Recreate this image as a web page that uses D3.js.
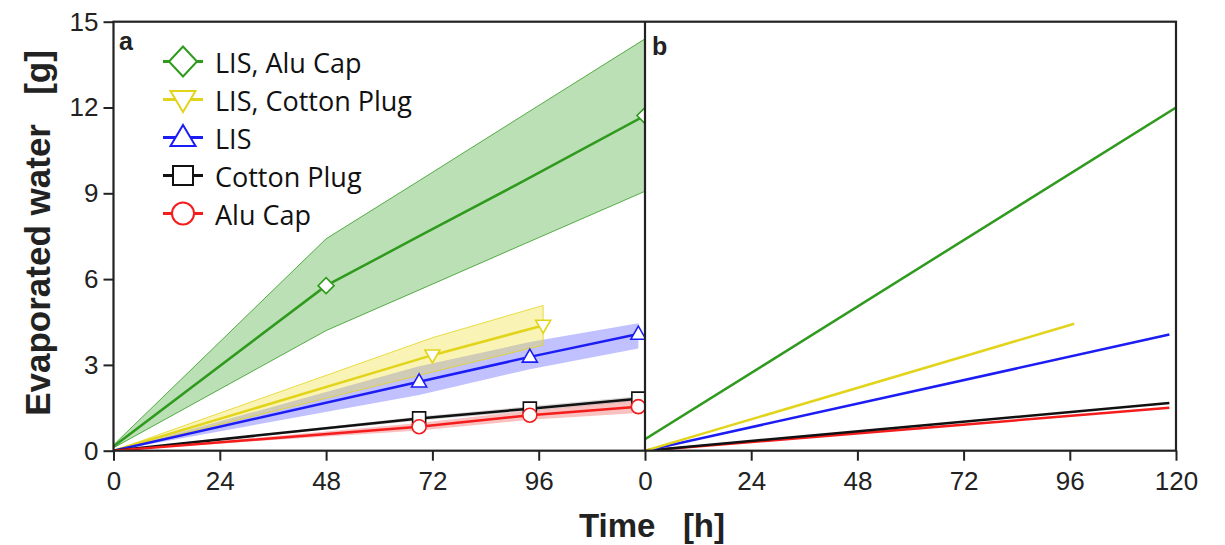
<!DOCTYPE html>
<html>
<head>
<meta charset="utf-8">
<script src="https://cdn.jsdelivr.net/npm/d3@7"></script>
<style>
  body { margin: 0; background: #fff; }
  svg { display: block; }
  .tick text { font-family: "Liberation Sans", Arial, sans-serif; font-size: 26px; fill: #222; }
</style>
</head>
<body>
<svg width="1225" height="545"></svg>
<script>
// series names + colours
var seriesNames = ["LIS, Alu Cap", "LIS, Cotton Plug", "LIS", "Cotton Plug", "Alu Cap"];
var lineColors = ["#2f9a1e", "#e2d41a", "#1c1cf5", "#111111", "#f51c1c"];
var bandColors = ["#3aa526", "#ecdf2a", "#4a4aff", "#777777", "#f04a4a"];
var symbols = ["diamond", "tri-down", "tri-up", "square", "circle"];

// panel a : measured means with band (time in h, water in g)
var tGreen = [0, 48, 69, 92, 120];
var meanGreen = [0.15, 5.77, 7.5, 9.38, 11.72];
var upGreen = [0.2, 7.41, 9.44, 11.68, 14.4];
var loGreen = [0.1, 4.2, 5.62, 7.18, 9.07];
var markGreen = [48, 120];

var tYellow = [0, 72, 97];
var meanYellow = [0, 3.34, 4.38];
var upYellow = [0, 3.95, 5.08];
var loYellow = [0, 2.75, 3.69];
var markYellow = [72, 97];

var tOther = [0, 69, 94, 118.5];
var meanBlue = [0, 2.41, 3.28, 4.08];
var upBlue = [0, 2.95, 3.8, 4.46];
var loBlue = [0, 1.95, 2.85, 3.57];

var meanBlack = [0, 1.13, 1.47, 1.82];
var upBlack = [0, 1.2, 1.55, 1.9];
var loBlack = [0, 1.06, 1.39, 1.74];

var meanRed = [0, 0.84, 1.24, 1.54];
var upRed = [0, 0.97, 1.4, 1.76];
var loRed = [0, 0.71, 1.08, 1.32];
var markOther = [69, 94, 118.5];

// panel b : linear fits (start / end)
var fitT0 = [0, 0, 0, 0, 0];
var fitT1 = [120, 97, 118.5, 118.5, 118.5];
var fitV0 = [0.4, 0, 0, 0, 0];
var fitV1 = [12.0, 4.44, 4.06, 1.67, 1.50];

var xTicksA = [0, 24, 48, 72, 96];
var xTicksB = [0, 24, 48, 72, 96, 120];
var yTicks = [0, 3, 6, 9, 12, 15];

var svg = d3.select("svg");

var left = 113.5, mid = 645, right = 1176, topY = 21.7, bottom = 450.7;

var y = d3.scaleLinear().domain([0, 15]).range([bottom, topY]);
var xA = d3.scaleLinear().domain([0, 120]).range([left, mid]);
var xB = d3.scaleLinear().domain([0, 120]).range([mid, right]);

function pack(t, m, u, l, marks) {
  return { pts: t.map(function(d, i) { return {t: d, m: m[i], u: u[i], l: l[i]}; }),
           marks: t.map(function(d, i) { return {t: d, m: m[i]}; }).filter(function(p) { return marks.indexOf(p.t) >= 0; }) };
}
var seriesA = [
  pack(tGreen, meanGreen, upGreen, loGreen, markGreen),
  pack(tYellow, meanYellow, upYellow, loYellow, markYellow),
  pack(tOther, meanBlue, upBlue, loBlue, markOther),
  pack(tOther, meanBlack, upBlack, loBlack, markOther),
  pack(tOther, meanRed, upRed, loRed, markOther)
];

// marker shapes
function markerPath(type, w, h) {
  var a = w / 2, b = h / 2;
  if (type == "diamond") return "M0," + (-b) + "L" + a + ",0L0," + b + "L" + (-a) + ",0Z";
  if (type == "tri-up") return "M0," + (-h * 0.6) + "L" + a + "," + (h * 0.4) + "L" + (-a) + "," + (h * 0.4) + "Z";
  if (type == "tri-down") return "M0," + (h * 0.6) + "L" + a + "," + (-h * 0.4) + "L" + (-a) + "," + (-h * 0.4) + "Z";
  if (type == "square") return "M" + (-a) + "," + (-b) + "h" + w + "v" + h + "h" + (-w) + "Z";
  return d3.arc()({innerRadius: 0, outerRadius: a, startAngle: 0, endAngle: 2 * Math.PI});
}
var chartSize = {"diamond": [16, 16], "tri-down": [15, 13], "tri-up": [15, 13], "square": [13, 13], "circle": [14, 14]};
var legSize = {"diamond": [28, 30], "tri-down": [25, 21], "tri-up": [25, 21], "square": [20, 19], "circle": [22, 22]};

svg.append("clipPath").attr("id", "clipA")
  .append("rect").attr("x", left).attr("y", topY).attr("width", mid - left).attr("height", bottom - topY);
svg.append("clipPath").attr("id", "clipB")
  .append("rect").attr("x", mid).attr("y", topY).attr("width", right - mid).attr("height", bottom - topY);

var gA = svg.append("g").attr("clip-path", "url(#clipA)");

var area = d3.area().x(function(d) { return xA(d.t); }).y0(function(d) { return y(d.l); }).y1(function(d) { return y(d.u); });
var line = d3.line().x(function(d) { return xA(d.t); }).y(function(d) { return y(d.m); });

// bands
var bandOrder = [0, 2, 1, 3, 4];
bandOrder.forEach(function(i) {
  gA.append("path").datum(seriesA[i].pts)
    .attr("d", area)
    .attr("fill", bandColors[i])
    .attr("fill-opacity", i == 3 ? 0.3 : 0.34)
    .attr("stroke", (i < 2) ? lineColors[i] : "none")
    .attr("stroke-width", 0.8);
});

// mean lines
seriesA.forEach(function(s, i) {
  gA.append("path").datum(s.pts)
    .attr("d", line)
    .attr("fill", "none")
    .attr("stroke", lineColors[i])
    .attr("stroke-width", 2.5);
});

// markers
[3, 4, 2, 1, 0].forEach(function(i) {
  var sz = chartSize[symbols[i]];
  gA.selectAll(".m" + i).data(seriesA[i].marks).enter().append("path")
    .attr("class", "m" + i)
    .attr("transform", function(d) { return "translate(" + xA(d.t) + "," + y(d.m) + ")"; })
    .attr("d", markerPath(symbols[i], sz[0], sz[1]))
    .attr("fill", "#fff")
    .attr("stroke", lineColors[i])
    .attr("stroke-width", 1.6);
});

// panel b fits
var gB = svg.append("g").attr("clip-path", "url(#clipB)");
var fits = seriesNames.map(function(n, i) {
  return [{t: fitT0[i], v: fitV0[i]}, {t: fitT1[i], v: fitV1[i]}];
});
[4, 3, 2, 1, 0].forEach(function(i) {
  gB.append("path").datum(fits[i])
    .attr("d", d3.line().x(function(d) { return xB(d.t); }).y(function(d) { return y(d.v); }))
    .attr("fill", "none")
    .attr("stroke", lineColors[i])
    .attr("stroke-width", 2.5);
});

// axes
var axA = svg.append("g").attr("transform", "translate(0," + bottom + ")")
  .call(d3.axisBottom(xA).tickValues(xTicksA).tickSize(10).tickPadding(11).tickSizeOuter(0));
var axB = svg.append("g").attr("transform", "translate(0," + bottom + ")")
  .call(d3.axisBottom(xB).tickValues(xTicksB).tickSize(10).tickPadding(11).tickSizeOuter(0));
var axY = svg.append("g").attr("transform", "translate(" + left + ",0)")
  .call(d3.axisLeft(y).tickValues(yTicks).tickSize(10).tickPadding(5).tickSizeOuter(0));
[axA, axB, axY].forEach(function(g) {
  g.select(".domain").remove();
  g.selectAll(".tick line").attr("stroke", "#222").attr("stroke-width", 2);
});

// frame
var frame = svg.append("g").attr("stroke", "#222").attr("stroke-width", 2.2).attr("fill", "none");
frame.append("rect").attr("x", left).attr("y", topY).attr("width", right - left).attr("height", bottom - topY);
frame.append("line").attr("x1", mid).attr("x2", mid).attr("y1", topY).attr("y2", bottom);

// panel letters
svg.append("text").attr("x", 119).attr("y", 50).text("a")
  .style("font-family", "Liberation Sans, Arial, sans-serif").style("font-weight", "bold").style("font-size", "25px").attr("fill", "#222");
svg.append("text").attr("x", 652).attr("y", 55).text("b")
  .style("font-family", "Liberation Sans, Arial, sans-serif").style("font-weight", "bold").style("font-size", "25px").attr("fill", "#222");

// axis titles
svg.append("text")
  .attr("transform", "translate(50," + 233 + ") rotate(-90)")
  .attr("text-anchor", "middle")
  .style("white-space", "pre")
  .style("font-family", "Liberation Sans, Arial, sans-serif").style("font-weight", "bold").style("font-size", "35px")
  .attr("fill", "#222")
  .text("Evaporated water   [g]");
svg.append("text")
  .attr("x", 652).attr("y", 537)
  .attr("text-anchor", "middle")
  .style("white-space", "pre")
  .style("font-family", "Liberation Sans, Arial, sans-serif").style("font-weight", "bold").style("font-size", "33px")
  .attr("fill", "#222")
  .text("Time   [h]");

// legend
var leg = svg.append("g");
seriesNames.forEach(function(n, i) {
  var base = 73 + i * 38;
  var ly = base - 11.5;
  leg.append("line").attr("x1", 163).attr("x2", 203).attr("y1", ly).attr("y2", ly)
    .attr("stroke", lineColors[i]).attr("stroke-width", 3);
  var sz = legSize[symbols[i]];
  leg.append("path")
    .attr("transform", "translate(183," + ly + ")")
    .attr("d", markerPath(symbols[i], sz[0], sz[1]))
    .attr("fill", "#fff").attr("stroke", lineColors[i]).attr("stroke-width", 2);
  leg.append("text").attr("x", 215).attr("y", base).text(n)
    .style("font-family", "Open Sans, sans-serif").style("font-size", "27px").attr("fill", "#111");
});
</script>
</body>
</html>
